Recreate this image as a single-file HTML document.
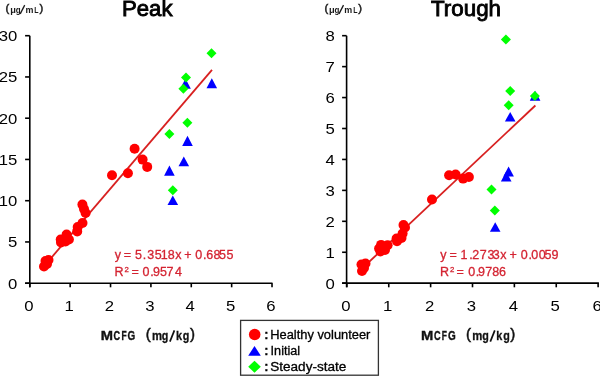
<!DOCTYPE html>
<html><head><meta charset="utf-8"><style>
html,body{margin:0;padding:0;background:#fff;}
body{width:600px;height:376px;overflow:hidden;font-family:"Liberation Sans",sans-serif;}
svg{display:block;will-change:transform;}
</style></head><body>
<svg width="600" height="376" viewBox="0 0 600 376">
<rect width="600" height="376" fill="#fff"/>
<g stroke="#000" stroke-width="1.6" fill="none">
<path d="M29.8,35.7 V287.2 M25.1,283.2 H272.5"/>
<path d="M25.1,283.20 H29.8"/>
<path d="M25.1,241.95 H29.8"/>
<path d="M25.1,200.70 H29.8"/>
<path d="M25.1,159.45 H29.8"/>
<path d="M25.1,118.20 H29.8"/>
<path d="M25.1,76.95 H29.8"/>
<path d="M25.1,35.70 H29.8"/>
<path d="M29.80,283.2 V287.3"/>
<path d="M70.17,283.2 V287.3"/>
<path d="M110.54,283.2 V287.3"/>
<path d="M150.91,283.2 V287.3"/>
<path d="M191.28,283.2 V287.3"/>
<path d="M231.65,283.2 V287.3"/>
<path d="M272.02,283.2 V287.3"/>
</g>
<g font-family="Liberation Sans" font-size="15" fill="#000" text-anchor="end">
<text x="17.4" y="288.70" textLength="9.30" lengthAdjust="spacingAndGlyphs">0</text>
<text x="17.4" y="247.45" textLength="9.30" lengthAdjust="spacingAndGlyphs">5</text>
<text x="17.4" y="206.20" textLength="18.60" lengthAdjust="spacingAndGlyphs">10</text>
<text x="17.4" y="164.95" textLength="18.60" lengthAdjust="spacingAndGlyphs">15</text>
<text x="17.4" y="123.70" textLength="18.60" lengthAdjust="spacingAndGlyphs">20</text>
<text x="17.4" y="82.45" textLength="18.60" lengthAdjust="spacingAndGlyphs">25</text>
<text x="17.4" y="41.20" textLength="18.60" lengthAdjust="spacingAndGlyphs">30</text>
</g>
<g font-family="Liberation Sans" font-size="15" fill="#000" text-anchor="middle">
<text x="28.80" y="311" textLength="9.3" lengthAdjust="spacingAndGlyphs">0</text>
<text x="69.17" y="311" textLength="9.3" lengthAdjust="spacingAndGlyphs">1</text>
<text x="109.54" y="311" textLength="9.3" lengthAdjust="spacingAndGlyphs">2</text>
<text x="149.91" y="311" textLength="9.3" lengthAdjust="spacingAndGlyphs">3</text>
<text x="190.28" y="311" textLength="9.3" lengthAdjust="spacingAndGlyphs">4</text>
<text x="230.65" y="311" textLength="9.3" lengthAdjust="spacingAndGlyphs">5</text>
<text x="271.02" y="311" textLength="9.3" lengthAdjust="spacingAndGlyphs">6</text>
</g>
<line x1="44" y1="266.3" x2="212" y2="69.8" stroke="#d82020" stroke-width="1.8"/>
<circle cx="44" cy="266.5" r="5.0" fill="#ff0000"/>
<circle cx="45.5" cy="261" r="5.0" fill="#ff0000"/>
<circle cx="48.5" cy="260" r="5.0" fill="#ff0000"/>
<circle cx="47" cy="264" r="5.0" fill="#ff0000"/>
<circle cx="60.7" cy="239.5" r="5.0" fill="#ff0000"/>
<circle cx="61" cy="242.5" r="5.0" fill="#ff0000"/>
<circle cx="66.6" cy="234.6" r="5.0" fill="#ff0000"/>
<circle cx="68.9" cy="239.5" r="5.0" fill="#ff0000"/>
<circle cx="65.5" cy="241.5" r="5.0" fill="#ff0000"/>
<circle cx="77.2" cy="231.4" r="5.0" fill="#ff0000"/>
<circle cx="77.7" cy="227" r="5.0" fill="#ff0000"/>
<circle cx="82.5" cy="223" r="5.0" fill="#ff0000"/>
<circle cx="85.6" cy="213" r="5.0" fill="#ff0000"/>
<circle cx="84" cy="209" r="5.0" fill="#ff0000"/>
<circle cx="82.4" cy="204.6" r="5.0" fill="#ff0000"/>
<circle cx="112" cy="175.2" r="5.0" fill="#ff0000"/>
<circle cx="127.9" cy="173.3" r="5.0" fill="#ff0000"/>
<circle cx="134.6" cy="148.7" r="5.0" fill="#ff0000"/>
<circle cx="142.6" cy="159.6" r="5.0" fill="#ff0000"/>
<circle cx="147.2" cy="166.9" r="5.0" fill="#ff0000"/>
<polygon points="164.10,175.8 174.70,175.8 169.40,165.6" fill="#0000ff"/>
<polygon points="178.50,166.3 189.10,166.3 183.80,156.4" fill="#0000ff"/>
<polygon points="182.20,145.9 192.80,145.9 187.50,135.7" fill="#0000ff"/>
<polygon points="167.50,205 178.10,205 172.80,195.5" fill="#0000ff"/>
<polygon points="180.20,88.7 190.80,88.7 185.50,78.5" fill="#0000ff"/>
<polygon points="206.50,88.2 217.10,88.2 211.80,78.3" fill="#0000ff"/>
<polygon points="169.4,128.9 174.4,133.9 169.4,138.9 164.4,133.9" fill="#00ff00"/>
<polygon points="187.4,117.7 192.4,122.7 187.4,127.7 182.4,122.7" fill="#00ff00"/>
<polygon points="172.8,185.2 177.8,190.2 172.8,195.2 167.8,190.2" fill="#00ff00"/>
<polygon points="186,72.6 191.0,77.6 186,82.6 181.0,77.6" fill="#00ff00"/>
<polygon points="183.4,83.7 188.4,88.7 183.4,93.7 178.4,88.7" fill="#00ff00"/>
<polygon points="211.5,48.2 216.5,53.2 211.5,58.2 206.5,53.2" fill="#00ff00"/>
<g font-family="Liberation Sans" font-size="12.5" fill="#d42432" stroke="#d42432" stroke-width="0.3">
<text x="114.67 123.69 135.0 142.86 147.22 154.8 160.8 167.76 175.36 184.14 195.26 202.96 206.37 213.46 219.0 226.4" y="259.3">y=5.3518x+0.6855</text>
<text x="114.5" y="276.2">R</text><text x="124.5" y="272" font-size="7.8">2</text><text x="131.39 142.61 150.26 152.91 160.1 166.61 174.91" y="276.2">=0.9574</text>
</g>
<text x="122" y="15.8" font-family="Liberation Sans" font-size="22.5" stroke="#000" stroke-width="0.9" textLength="50.5" lengthAdjust="spacingAndGlyphs">Peak</text>
<g fill="#1a1a1a" font-family="Liberation Sans"><text x="5.6" y="11.5" font-size="11.2" stroke="#1a1a1a" stroke-width="0.5">(</text><text x="10.15" y="12.8" font-size="9.8" font-weight="bold" textLength="5.67" lengthAdjust="spacingAndGlyphs">μ</text><text x="15.67" y="12.8" font-size="9.8" font-weight="bold" textLength="4.86" lengthAdjust="spacingAndGlyphs">g</text><text x="25.41" y="12.8" font-size="9.8" font-weight="bold" textLength="7.94" lengthAdjust="spacingAndGlyphs">m</text><text x="34.33" y="12.8" font-size="9.8" font-weight="bold" textLength="4.29" lengthAdjust="spacingAndGlyphs">L</text><line x1="20.2" y1="13.9" x2="24.7" y2="5.1" stroke="#1a1a1a" stroke-width="1.3"/><text x="39.5" y="11.5" font-size="11.2" stroke="#1a1a1a" stroke-width="0.5">)</text></g>
<g fill="#111" font-family="Liberation Sans"><text x="100.71" y="339.8" font-size="12" font-weight="bold" textLength="12.27" lengthAdjust="spacingAndGlyphs" stroke="#111" stroke-width="0.35">M</text><text x="113.62" y="339.8" font-size="12" font-weight="bold" textLength="6.63" lengthAdjust="spacingAndGlyphs" stroke="#111" stroke-width="0.35">C</text><text x="121.43" y="339.8" font-size="12" font-weight="bold" textLength="5.18" lengthAdjust="spacingAndGlyphs" stroke="#111" stroke-width="0.35">F</text><text x="127.59" y="339.8" font-size="12" font-weight="bold" textLength="7.72" lengthAdjust="spacingAndGlyphs" stroke="#111" stroke-width="0.35">G</text><text x="145.7" y="339.4" font-size="15" stroke="#111" stroke-width="0.5">(</text><text x="151.96" y="339.8" font-size="12.6" font-weight="bold" textLength="10.05" lengthAdjust="spacingAndGlyphs" stroke="#111" stroke-width="0.3">m</text><text x="161.86" y="339.8" font-size="12.6" font-weight="bold" textLength="6.56" lengthAdjust="spacingAndGlyphs" stroke="#111" stroke-width="0.3">g</text><text x="175.94" y="339.8" font-size="12.6" font-weight="bold" textLength="6.05" lengthAdjust="spacingAndGlyphs" stroke="#111" stroke-width="0.3">k</text><text x="182.86" y="339.8" font-size="12.6" font-weight="bold" textLength="6.56" lengthAdjust="spacingAndGlyphs" stroke="#111" stroke-width="0.3">g</text><line x1="169.9" y1="341.6" x2="174.4" y2="330.4" stroke="#111" stroke-width="1.7"/><text x="189.9" y="339.4" font-size="15" stroke="#111" stroke-width="0.5">)</text></g>
<g stroke="#000" stroke-width="1.6" fill="none">
<path d="M346.6,35.7 V287.2 M342.1,283.1 H598.9"/>
<path d="M342.1,283.20 H346.6"/>
<path d="M342.1,252.26 H346.6"/>
<path d="M342.1,221.32 H346.6"/>
<path d="M342.1,190.38 H346.6"/>
<path d="M342.1,159.44 H346.6"/>
<path d="M342.1,128.50 H346.6"/>
<path d="M342.1,97.56 H346.6"/>
<path d="M342.1,66.62 H346.6"/>
<path d="M342.1,35.68 H346.6"/>
<path d="M346.87,283.1 V287.3"/>
<path d="M388.75,283.1 V287.3"/>
<path d="M430.62,283.1 V287.3"/>
<path d="M472.50,283.1 V287.3"/>
<path d="M514.37,283.1 V287.3"/>
<path d="M556.25,283.1 V287.3"/>
<path d="M598.12,283.1 V287.3"/>
</g>
<g font-family="Liberation Sans" font-size="15" fill="#000" text-anchor="end">
<text x="334.8" y="288.70" textLength="9.3" lengthAdjust="spacingAndGlyphs">0</text>
<text x="334.8" y="257.76" textLength="9.3" lengthAdjust="spacingAndGlyphs">1</text>
<text x="334.8" y="226.82" textLength="9.3" lengthAdjust="spacingAndGlyphs">2</text>
<text x="334.8" y="195.88" textLength="9.3" lengthAdjust="spacingAndGlyphs">3</text>
<text x="334.8" y="164.94" textLength="9.3" lengthAdjust="spacingAndGlyphs">4</text>
<text x="334.8" y="134.00" textLength="9.3" lengthAdjust="spacingAndGlyphs">5</text>
<text x="334.8" y="103.06" textLength="9.3" lengthAdjust="spacingAndGlyphs">6</text>
<text x="334.8" y="72.12" textLength="9.3" lengthAdjust="spacingAndGlyphs">7</text>
<text x="334.8" y="41.18" textLength="9.3" lengthAdjust="spacingAndGlyphs">8</text>
</g>
<g font-family="Liberation Sans" font-size="15" fill="#000" text-anchor="middle">
<text x="345.87" y="311" textLength="9.3" lengthAdjust="spacingAndGlyphs">0</text>
<text x="387.75" y="311" textLength="9.3" lengthAdjust="spacingAndGlyphs">1</text>
<text x="429.62" y="311" textLength="9.3" lengthAdjust="spacingAndGlyphs">2</text>
<text x="471.50" y="311" textLength="9.3" lengthAdjust="spacingAndGlyphs">3</text>
<text x="513.37" y="311" textLength="9.3" lengthAdjust="spacingAndGlyphs">4</text>
<text x="555.25" y="311" textLength="9.3" lengthAdjust="spacingAndGlyphs">5</text>
<text x="597.12" y="311" textLength="9.3" lengthAdjust="spacingAndGlyphs">6</text>
</g>
<line x1="361" y1="269.5" x2="535.4" y2="105.5" stroke="#d82020" stroke-width="1.8"/>
<circle cx="361.5" cy="264.5" r="5.0" fill="#ff0000"/>
<circle cx="365.5" cy="263.5" r="5.0" fill="#ff0000"/>
<circle cx="362" cy="271" r="5.0" fill="#ff0000"/>
<circle cx="364" cy="268" r="5.0" fill="#ff0000"/>
<circle cx="381.1" cy="244.9" r="5.0" fill="#ff0000"/>
<circle cx="387.6" cy="245.2" r="5.0" fill="#ff0000"/>
<circle cx="379.1" cy="248.5" r="5.0" fill="#ff0000"/>
<circle cx="380.4" cy="251.5" r="5.0" fill="#ff0000"/>
<circle cx="385" cy="250" r="5.0" fill="#ff0000"/>
<circle cx="403.5" cy="225" r="5.0" fill="#ff0000"/>
<circle cx="405" cy="227.5" r="5.0" fill="#ff0000"/>
<circle cx="402.6" cy="233.5" r="5.0" fill="#ff0000"/>
<circle cx="401.5" cy="238" r="5.0" fill="#ff0000"/>
<circle cx="396.6" cy="238.5" r="5.0" fill="#ff0000"/>
<circle cx="397" cy="241.3" r="5.0" fill="#ff0000"/>
<circle cx="432" cy="199.5" r="5.0" fill="#ff0000"/>
<circle cx="449.1" cy="175.2" r="5.0" fill="#ff0000"/>
<circle cx="455.6" cy="174.5" r="5.0" fill="#ff0000"/>
<circle cx="463.1" cy="178.6" r="5.0" fill="#ff0000"/>
<circle cx="468.9" cy="177" r="5.0" fill="#ff0000"/>
<polygon points="529.80,100.7 540.40,100.7 535.10,90.7" fill="#0000ff"/>
<polygon points="504.90,121.6 515.50,121.6 510.20,112" fill="#0000ff"/>
<polygon points="503.30,176.6 513.90,176.6 508.60,166.6" fill="#0000ff"/>
<polygon points="500.90,181.6 511.50,181.6 506.20,171.6" fill="#0000ff"/>
<polygon points="489.90,231.8 500.50,231.8 495.20,222.3" fill="#0000ff"/>
<polygon points="505.9,34.5 510.9,39.5 505.9,44.5 500.9,39.5" fill="#00ff00"/>
<polygon points="534.9,91.0 539.9,96 534.9,101.0 529.9,96" fill="#00ff00"/>
<polygon points="510.2,86.0 515.2,91 510.2,96.0 505.2,91" fill="#00ff00"/>
<polygon points="508.7,100.3 513.7,105.3 508.7,110.3 503.7,105.3" fill="#00ff00"/>
<polygon points="491.5,184.6 496.5,189.6 491.5,194.6 486.5,189.6" fill="#00ff00"/>
<polygon points="494.8,205.6 499.8,210.6 494.8,215.6 489.8,210.6" fill="#00ff00"/>
<g font-family="Liberation Sans" font-size="12.5" fill="#d42432" stroke="#d42432" stroke-width="0.3">
<text x="440.27 449.39 460.6 469.16 472.37 479.76 487.42 492.82 500.26 509.39 520.76 528.46 531.21 538.71 544.5 551.51" y="259.3">y=1.2733x+0.0059</text>
<text x="439.9" y="276.2">R</text><text x="450" y="272" font-size="7.8">2</text><text x="456.39 468.21 475.86 478.01 485.36 492.26 498.97" y="276.2">=0.9786</text>
</g>
<text x="431" y="15.8" font-family="Liberation Sans" font-size="22.5" stroke="#000" stroke-width="0.9" textLength="70" lengthAdjust="spacingAndGlyphs">Trough</text>
<g fill="#1a1a1a" font-family="Liberation Sans"><text x="324.40000000000003" y="11.5" font-size="11.2" stroke="#1a1a1a" stroke-width="0.5">(</text><text x="328.95" y="12.8" font-size="9.8" font-weight="bold" textLength="5.67" lengthAdjust="spacingAndGlyphs">μ</text><text x="334.47" y="12.8" font-size="9.8" font-weight="bold" textLength="4.86" lengthAdjust="spacingAndGlyphs">g</text><text x="344.21" y="12.8" font-size="9.8" font-weight="bold" textLength="7.94" lengthAdjust="spacingAndGlyphs">m</text><text x="353.13" y="12.8" font-size="9.8" font-weight="bold" textLength="4.29" lengthAdjust="spacingAndGlyphs">L</text><line x1="339.0" y1="13.9" x2="343.5" y2="5.1" stroke="#1a1a1a" stroke-width="1.3"/><text x="358.3" y="11.5" font-size="11.2" stroke="#1a1a1a" stroke-width="0.5">)</text></g>
<g fill="#111" font-family="Liberation Sans"><text x="421.11" y="339.8" font-size="12" font-weight="bold" textLength="12.27" lengthAdjust="spacingAndGlyphs" stroke="#111" stroke-width="0.35">M</text><text x="434.02" y="339.8" font-size="12" font-weight="bold" textLength="6.63" lengthAdjust="spacingAndGlyphs" stroke="#111" stroke-width="0.35">C</text><text x="441.83" y="339.8" font-size="12" font-weight="bold" textLength="5.18" lengthAdjust="spacingAndGlyphs" stroke="#111" stroke-width="0.35">F</text><text x="447.99" y="339.8" font-size="12" font-weight="bold" textLength="7.72" lengthAdjust="spacingAndGlyphs" stroke="#111" stroke-width="0.35">G</text><text x="466.09999999999997" y="339.4" font-size="15" stroke="#111" stroke-width="0.5">(</text><text x="472.36" y="339.8" font-size="12.6" font-weight="bold" textLength="10.05" lengthAdjust="spacingAndGlyphs" stroke="#111" stroke-width="0.3">m</text><text x="482.26" y="339.8" font-size="12.6" font-weight="bold" textLength="6.56" lengthAdjust="spacingAndGlyphs" stroke="#111" stroke-width="0.3">g</text><text x="496.34" y="339.8" font-size="12.6" font-weight="bold" textLength="6.05" lengthAdjust="spacingAndGlyphs" stroke="#111" stroke-width="0.3">k</text><text x="503.26" y="339.8" font-size="12.6" font-weight="bold" textLength="6.56" lengthAdjust="spacingAndGlyphs" stroke="#111" stroke-width="0.3">g</text><line x1="490.29999999999995" y1="341.6" x2="494.79999999999995" y2="330.4" stroke="#111" stroke-width="1.7"/><text x="510.29999999999995" y="339.4" font-size="15" stroke="#111" stroke-width="0.5">)</text></g>
<rect x="240.6" y="320.4" width="137.8" height="54.8" fill="#fff" stroke="#333" stroke-width="1.3"/>
<circle cx="254.7" cy="334.5" r="5.8" fill="#ff0000"/>
<polygon points="248.20,355.7 260.80,355.7 254.50,346" fill="#0000ff"/>
<polygon points="254.5,360.8 260.8,366.8 254.5,372.8 248.2,366.8" fill="#00ff00"/>
<g font-family="Liberation Sans" font-size="12.5" fill="#000" stroke="#000" stroke-width="0.3">
<text x="264.2" y="338.8" font-weight="bold">:</text><text x="270.2" y="338.8" textLength="100.2" lengthAdjust="spacingAndGlyphs">Healthy volunteer</text>
<text x="264.2" y="355.3" font-weight="bold">:</text><text x="270.6" y="355.3" textLength="29.5" lengthAdjust="spacingAndGlyphs">Initial</text>
<text x="264.2" y="371.4" font-weight="bold">:</text><text x="270.2" y="371.4" textLength="76.2" lengthAdjust="spacingAndGlyphs">Steady-state</text>
</g>
</svg>
</body></html>
